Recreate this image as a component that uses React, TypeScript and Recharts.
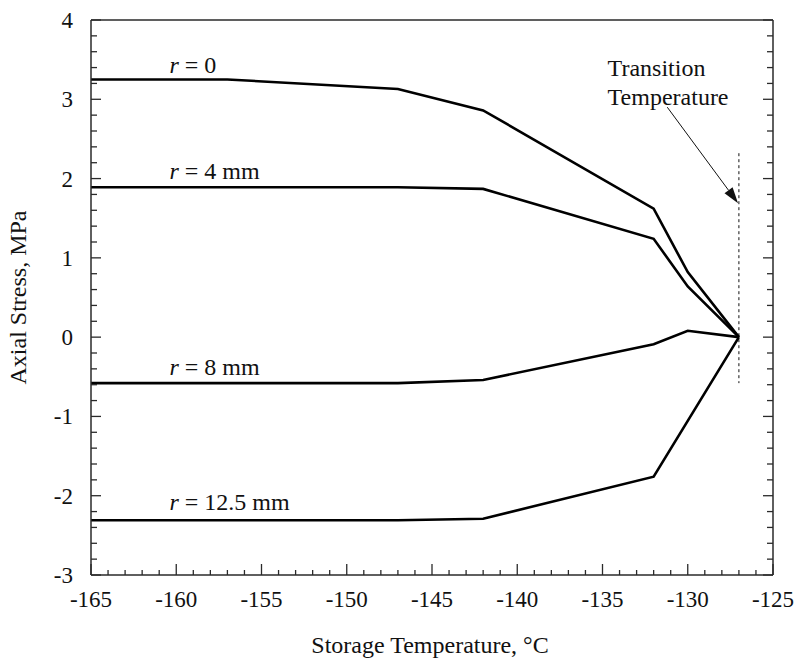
import React from 'react';
import { LineChart, Line, XAxis, YAxis, ReferenceLine, ReferenceDot } from 'recharts';

// storage temperature (degC) breakpoints, per curve
const tempsR0 = [-165, -157, -147, -142, -132, -130, -127];
const stressR0 = [3.25, 3.25, 3.13, 2.86, 1.62, 0.82, 0];

const tempsR4 = [-165, -147, -142, -132, -130, -127];
const stressR4 = [1.89, 1.89, 1.87, 1.24, 0.64, 0];

const tempsR8 = [-165, -147, -142, -132, -130, -127];
const stressR8 = [-0.58, -0.58, -0.54, -0.09, 0.08, 0];

const tempsR125 = [-165, -147, -142, -132, -127];
const stressR125 = [-2.31, -2.31, -2.29, -1.76, 0];

const curveLabels = ['0', '4 mm', '8 mm', '12.5 mm'];
const curveLabelX = [-160.4, -160.4, -160.4, -160.4];
const curveLabelY = [3.33, 2.0, -0.48, -2.18];

const transitionTemp = -127;
const transitionText = ['Transition', 'Temperature'];

const X_DOMAIN: [number, number] = [-165, -125];
const Y_DOMAIN: [number, number] = [-3, 4];
const X_MINOR = 1;
const Y_MINOR = 0.2;

const xTicks = Array.from({ length: 41 }, (_, i) => X_DOMAIN[0] + i * X_MINOR);
const yTicks = Array.from({ length: 36 }, (_, i) => Math.round((Y_DOMAIN[0] + i * Y_MINOR) * 10) / 10);

const toPoints = (xs: number[], ys: number[]) => xs.map((t, i) => ({ t, s: ys[i] }));

const FONT = '"Liberation Serif", "Times New Roman", serif';
const AXIS = '#2a2a2a';
const INK = '#111';

const isMajorX = (v: number) => Math.round(v) % 5 === 0;
const isMajorY = (v: number) => Math.abs(v - Math.round(v)) < 1e-6;

const BottomTick = (props: any) => {
  const { x, y, payload } = props;
  const major = isMajorX(payload.value);
  return (
    <g>
      <line x1={x} y1={y} x2={x} y2={y - (major ? 11 : 5)} stroke={AXIS} strokeWidth={1.3} />
      {major && (
        <text x={x} y={y + 32} textAnchor="middle" fontSize={23} fontFamily={FONT} fill={INK}>
          {payload.value}
        </text>
      )}
    </g>
  );
};

const TopTick = (props: any) => {
  const { x, y, payload } = props;
  const major = isMajorX(payload.value);
  return <line x1={x} y1={y} x2={x} y2={y + (major ? 11 : 5)} stroke={AXIS} strokeWidth={1.3} />;
};

const LeftTick = (props: any) => {
  const { x, y, payload } = props;
  const major = isMajorY(payload.value);
  return (
    <g>
      <line x1={x} y1={y} x2={x + (major ? 10 : 6)} y2={y} stroke={AXIS} strokeWidth={1.3} />
      {major && (
        <text x={x - 18} y={y + 8} textAnchor="end" fontSize={23} fontFamily={FONT} fill={INK}>
          {Math.round(payload.value)}
        </text>
      )}
    </g>
  );
};

const RightTick = (props: any) => {
  const { x, y, payload } = props;
  const major = isMajorY(payload.value);
  return <line x1={x} y1={y} x2={x - (major ? 10 : 6)} y2={y} stroke={AXIS} strokeWidth={1.3} />;
};

const Arrow = (props: any) => {
  const { x1, y1, x2, y2 } = props;
  const ang = Math.atan2(y2 - y1, x2 - x1);
  const len = 16;
  const half = 5;
  const bx = x2 - len * Math.cos(ang);
  const by = y2 - len * Math.sin(ang);
  const px = -Math.sin(ang) * half;
  const py = Math.cos(ang) * half;
  return (
    <g>
      <line x1={x1} y1={y1} x2={bx} y2={by} stroke={INK} strokeWidth={1} />
      <polygon points={`${x2},${y2} ${bx + px},${by + py} ${bx - px},${by - py}`} fill={INK} />
    </g>
  );
};

const curveLabel = (text: string) => (props: any) => (
  <text x={props.cx} y={props.cy} fontSize={24} fontFamily={FONT} fill={INK}>
    <tspan fontStyle="italic">r</tspan>
    {' = ' + text}
  </text>
);

const transitionLabel = (text: string) => (props: any) => (
  <text x={props.cx} y={props.cy} fontSize={24} fontFamily={FONT} fill={INK}>
    {text}
  </text>
);

const series = [
  { name: 'r0', data: toPoints(tempsR0, stressR0) },
  { name: 'r4', data: toPoints(tempsR4, stressR4) },
  { name: 'r8', data: toPoints(tempsR8, stressR8) },
  { name: 'r125', data: toPoints(tempsR125, stressR125) },
];

export default function App() {
  return (
    <div style={{ position: 'absolute', left: 0, top: 0, background: '#fff' }}>
      <LineChart width={800} height={668} margin={{ top: 19, right: 26, bottom: 0, left: 0 }}>
        <XAxis
          dataKey="t"
          type="number"
          domain={X_DOMAIN}
          ticks={xTicks}
          interval={0}
          allowDataOverflow
          height={93}
          tickSize={0}
          tickMargin={0}
          tickLine={false}
          tick={<BottomTick />}
          axisLine={{ stroke: AXIS, strokeWidth: 1.5 }}
          label={(p: any) => {
            const vb = p.viewBox;
            return (
              <text
                x={vb.x + vb.width / 2 - 2}
                y={653}
                textAnchor="middle"
                fontSize={24}
                fontFamily={FONT}
                fill={INK}
              >
                Storage Temperature, °C
              </text>
            );
          }}
        />
        <XAxis
          xAxisId="top"
          orientation="top"
          type="number"
          domain={X_DOMAIN}
          ticks={xTicks}
          interval={0}
          allowDataOverflow
          height={1}
          tickSize={0}
          tickMargin={0}
          tickLine={false}
          tick={<TopTick />}
          axisLine={{ stroke: AXIS, strokeWidth: 1.5 }}
        />
        <YAxis
          type="number"
          domain={Y_DOMAIN}
          ticks={yTicks}
          interval={0}
          allowDataOverflow
          width={91}
          tickSize={0}
          tickMargin={0}
          tickLine={false}
          tick={<LeftTick />}
          axisLine={{ stroke: AXIS, strokeWidth: 1.5 }}
          label={(p: any) => {
            const vb = p.viewBox;
            const cx = 26;
            const cy = vb.y + vb.height / 2;
            return (
              <text
                x={cx}
                y={cy}
                textAnchor="middle"
                fontSize={24}
                fontFamily={FONT}
                fill={INK}
                transform={`rotate(-90 ${cx} ${cy})`}
              >
                Axial Stress, MPa
              </text>
            );
          }}
        />
        <YAxis
          yAxisId="right"
          orientation="right"
          type="number"
          domain={Y_DOMAIN}
          ticks={yTicks}
          interval={0}
          allowDataOverflow
          width={1}
          tickSize={0}
          tickMargin={0}
          tickLine={false}
          tick={<RightTick />}
          axisLine={{ stroke: AXIS, strokeWidth: 1.5 }}
        />

        <ReferenceLine
          segment={[
            { x: transitionTemp, y: 2.32 },
            { x: transitionTemp, y: -0.58 },
          ]}
          stroke={INK}
          strokeWidth={1}
          strokeDasharray="3 3"
        />
        <ReferenceLine
          segment={[
            { x: -131.2, y: 2.9 },
            { x: -127.05, y: 1.69 },
          ]}
          shape={<Arrow />}
        />

        {series.map((s) => (
          <Line
            key={s.name}
            data={s.data}
            dataKey="s"
            type="linear"
            stroke="#000"
            strokeWidth={2.6}
            dot={false}
            activeDot={false}
            isAnimationActive={false}
          />
        ))}

        {curveLabels.map((txt, i) => (
          <ReferenceDot
            key={txt}
            x={curveLabelX[i]}
            y={curveLabelY[i]}
            r={0}
            shape={curveLabel(txt)}
          />
        ))}
        <ReferenceDot x={-134.7} y={3.29} r={0} shape={transitionLabel(transitionText[0])} />
        <ReferenceDot x={-134.7} y={2.93} r={0} shape={transitionLabel(transitionText[1])} />
      </LineChart>
    </div>
  );
}
